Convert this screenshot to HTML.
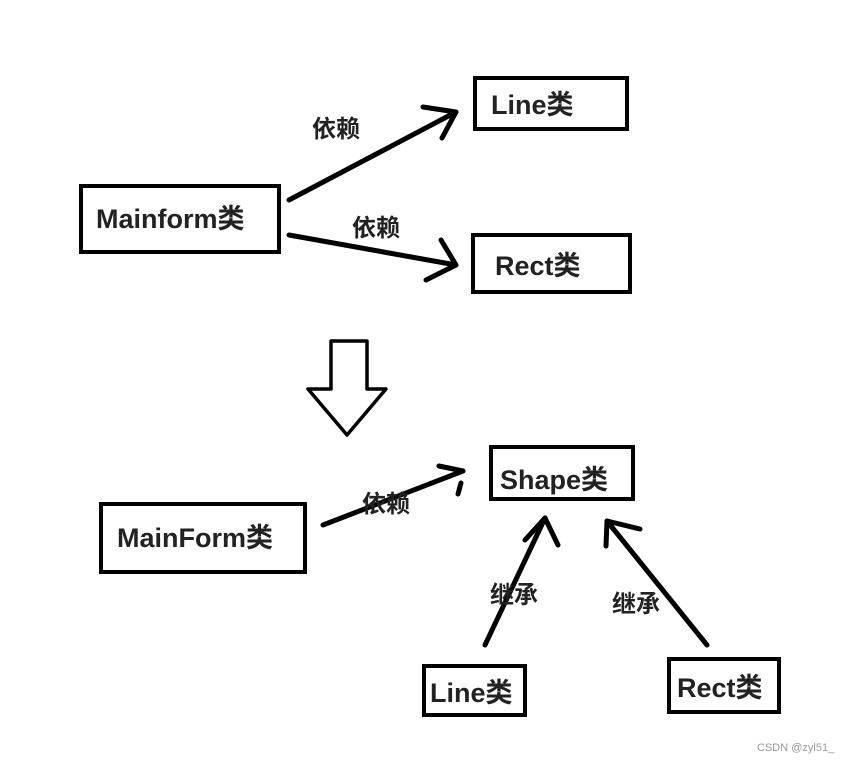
<!DOCTYPE html>
<html><head><meta charset="utf-8"><style>
body{margin:0;background:#fff;}
svg text{font-family:"Liberation Sans","Noto Sans CJK SC",sans-serif;font-weight:bold;fill:#222;}
</style></head><body>
<svg width="849" height="762" viewBox="0 0 849 762" xmlns="http://www.w3.org/2000/svg">
<g fill="none" stroke="#000" stroke-width="4">
<rect x="81" y="186" width="198" height="66"/>
<rect x="475" y="78" width="152" height="51"/>
<rect x="473" y="235" width="157" height="57"/>
<rect x="101" y="504" width="204" height="68"/>
<rect x="491" y="447" width="142" height="52"/>
<rect x="424" y="666" width="101" height="49"/>
<rect x="669" y="659" width="110" height="53"/>
</g>
<g fill="none" stroke="#000" stroke-width="5" stroke-linecap="round" stroke-linejoin="round">
<path d="M289 200 L456 112"/><path d="M423 107 L456 112 L442 138"/>
<path d="M289 235 L456 265"/><path d="M441 240 L456 265 L426 280"/>
<path d="M323 525 L463 471"/><path d="M439 466 L463 471"/><path d="M461 483 L458 494"/>
<path d="M485 645 L545 518"/><path d="M525 540 L545 518 L558 545"/>
<path d="M707 645 L607 521"/><path d="M606 546 L607 521 L640 529"/>
</g>
<path d="M331 341 H367 V389 H386 L347 435 L308 389 H331 Z" fill="none" stroke="#000" stroke-width="3.5" stroke-linejoin="round"/>
<g font-size="27">
<text x="96" y="228">Mainform类</text>
<text x="491" y="114">Line类</text>
<text x="495" y="275">Rect类</text>
<text x="117" y="547">MainForm类</text>
<text x="500" y="489">Shape类</text>
<text x="430" y="702">Line类</text>
<text x="677" y="697">Rect类</text>
</g>
<g font-size="24">
<text x="312" y="137">依赖</text>
<text x="352" y="236">依赖</text>
<text x="362" y="512">依赖</text>
<text x="490" y="603">继承</text>
<text x="612" y="612">继承</text>
</g>
<text x="757" y="751" font-size="11" style="font-weight:normal;fill:#999">CSDN @zyl51_</text>
</svg>
</body></html>
